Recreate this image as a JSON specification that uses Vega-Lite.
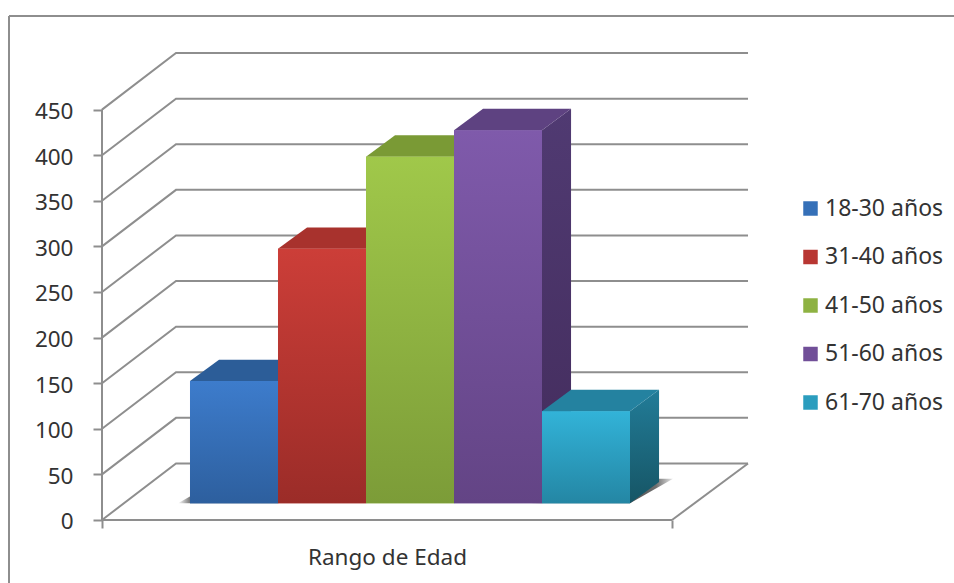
{
  "$schema": "https://vega.github.io/schema/vega-lite/v6.json",
  "width": 945,
  "height": 567,
  "autosize": "none",
  "padding": {"left": 9, "top": 16, "right": 0, "bottom": 0},
  "background": "white",
  "view": {"stroke": null},
  "datasets": {
    "edades": [
      {"rango": "18-30 años", "valor": 134},
      {"rango": "31-40 años", "valor": 279},
      {"rango": "41-50 años", "valor": 380},
      {"rango": "51-60 años", "valor": 409},
      {"rango": "61-70 años", "valor": 101}
    ],
    "marcas": [
      {"valor": 0}, {"valor": 50}, {"valor": 100}, {"valor": 150}, {"valor": 200},
      {"valor": 250}, {"valor": 300}, {"valor": 350}, {"valor": 400}, {"valor": 450}
    ]
  },
  "layer": [
    {
      "data": {"name": "marcas"},
      "transform": [
        {"calculate": "[0, 0.841, 7.341]", "as": "px"},
        {"calculate": "[datum.valor, datum.valor + 62, datum.valor + 62]", "as": "py"},
        {"flatten": ["px", "py"]}
      ],
      "mark": {"type": "line", "color": "#8e8e8e", "strokeWidth": 2},
      "encoding": {
        "x": {
          "field": "px", "type": "quantitative",
          "scale": {"domain": [-1.0568, 9.6818], "nice": false, "zero": false},
          "axis": {
            "title": "Rango de Edad", "values": [0, 6.477], "labels": false, "grid": false, "domain": false,
            "offset": -63, "tickSize": 8, "tickWidth": 2, "tickColor": "#8e8e8e",
            "titleFont": "Noto Sans", "titleFontSize": 22.5, "titleFontWeight": "normal", "titleColor": "#333333",
            "titleX": 378, "titleY": 26
          }
        },
        "y": {
          "field": "py", "type": "quantitative",
          "scale": {"domain": [-69.08, 552.63], "nice": false, "zero": false},
          "axis": {
            "title": null, "values": [0, 50, 100, 150, 200, 250, 300, 350, 400, 450], "grid": false, "domain": false,
            "offset": -93, "tickSize": 9, "tickWidth": 2, "tickColor": "#8e8e8e", "labelPadding": 20, "labelOffset": 2,
            "labelFont": "Noto Sans", "labelFontSize": 22.5, "labelColor": "#333333"
          }
        },
        "detail": {"field": "valor"}
      }
    },
    {
      "data": {"values": [{}]},
      "mark": {"type": "rule", "color": "#8e8e8e", "strokeWidth": 2},
      "encoding": {"x": {"datum": -1.0568}, "y": {"datum": -69.08}, "y2": {"datum": 552.63}}
    },
    {
      "data": {"values": [{}]},
      "mark": {"type": "rule", "color": "#8e8e8e", "strokeWidth": 2},
      "encoding": {"y": {"datum": 552.63}, "x": {"datum": -1.0568}, "x2": {"datum": 9.6818}}
    },
    {
      "data": {"values": [{}]},
      "mark": {"type": "rule", "color": "#8e8e8e", "strokeWidth": 2},
      "encoding": {"x": {"datum": 0}, "y": {"datum": 0}, "y2": {"datum": 450}}
    },
    {
      "data": {"values": [{}]},
      "mark": {"type": "rule", "color": "#8e8e8e", "strokeWidth": 2},
      "encoding": {"y": {"datum": 0}, "x": {"datum": 0}, "x2": {"datum": 6.477}}
    },
    {
      "data": {"values": [{}]},
      "mark": {"type": "rule", "color": "#8e8e8e", "strokeWidth": 2},
      "encoding": {"x": {"datum": 6.477}, "x2": {"datum": 7.341}, "y": {"datum": 0}, "y2": {"datum": 62}}
    },
    {
      "description": "Sombra sobre el suelo, visible en los extremos del grupo de barras",
      "data": {"name": "edades"},
      "transform": [
        {"window": [{"op": "row_number", "as": "n"}]},
        {"filter": "datum.n == 1 || datum.n == 5"},
        {"calculate": "[datum.n - 0.136, datum.n + 0.353, datum.n + 1, datum.n + 1.489]", "as": "px"},
        {"calculate": "[18.3, 45.3, 45.3, 45.3]", "as": "py"},
        {"calculate": "[18.3, 18.3, 18.3, 45.3]", "as": "py2"},
        {"flatten": ["px", "py", "py2"]}
      ],
      "mark": {
        "type": "area",
        "color": {
          "gradient": "linear", "x1": 0, "y1": 0, "x2": 1, "y2": 0,
          "stops": [
            {"offset": 0, "color": "#ffffff"},
            {"offset": 0.08, "color": "#808080"},
            {"offset": 0.7, "color": "#505050"},
            {"offset": 0.88, "color": "#6e6e6e"},
            {"offset": 1, "color": "#e8e8e8"}
          ]
        }
      },
      "encoding": {
        "x": {"field": "px", "type": "quantitative"},
        "y": {"field": "py", "type": "quantitative"},
        "y2": {"field": "py2"},
        "detail": {"field": "n"}
      }
    },
    {
      "description": "Caras laterales de las barras cuyo lado queda oculto por la barra siguiente",
      "data": {"name": "edades"},
      "transform": [
        {"window": [{"op": "row_number", "as": "n"}]},
        {"filter": "datum.n <= 3"},
        {"calculate": "[datum.n + 1, datum.n + 1.33]", "as": "px"},
        {"calculate": "[18.3 + datum.valor, 41.8 + datum.valor]", "as": "py"},
        {"calculate": "[18.3, 41.8]", "as": "py2"},
        {"flatten": ["px", "py", "py2"]}
      ],
      "mark": {"type": "area", "color": "#3c3c3c"},
      "encoding": {
        "x": {"field": "px", "type": "quantitative"},
        "y": {"field": "py", "type": "quantitative"},
        "y2": {"field": "py2"},
        "detail": {"field": "n"}
      }
    },
    {
      "description": "Cara lateral de la barra 51-60 años",
      "data": {"name": "edades"},
      "transform": [
        {"window": [{"op": "row_number", "as": "n"}]},
        {"filter": "datum.n == 4"},
        {"calculate": "[datum.n + 1, datum.n + 1.33]", "as": "px"},
        {"calculate": "[18.3 + datum.valor, 41.8 + datum.valor]", "as": "py"},
        {"calculate": "[18.3, 41.8]", "as": "py2"},
        {"flatten": ["px", "py", "py2"]}
      ],
      "mark": {
        "type": "area",
        "color": {"gradient": "linear", "x1": 0, "y1": 0, "x2": 0, "y2": 1, "stops": [{"offset": 0, "color": "#503a72"}, {"offset": 1, "color": "#432c5c"}]}
      },
      "encoding": {
        "x": {"field": "px", "type": "quantitative"},
        "y": {"field": "py", "type": "quantitative"},
        "y2": {"field": "py2"}
      }
    },
    {
      "description": "Cara lateral de la barra 61-70 años",
      "data": {"name": "edades"},
      "transform": [
        {"window": [{"op": "row_number", "as": "n"}]},
        {"filter": "datum.n == 5"},
        {"calculate": "[datum.n + 1, datum.n + 1.33]", "as": "px"},
        {"calculate": "[18.3 + datum.valor, 41.8 + datum.valor]", "as": "py"},
        {"calculate": "[18.3, 41.8]", "as": "py2"},
        {"flatten": ["px", "py", "py2"]}
      ],
      "mark": {
        "type": "area",
        "color": {"gradient": "linear", "x1": 0, "y1": 0, "x2": 0, "y2": 1, "stops": [{"offset": 0, "color": "#227c98"}, {"offset": 1, "color": "#165565"}]}
      },
      "encoding": {
        "x": {"field": "px", "type": "quantitative"},
        "y": {"field": "py", "type": "quantitative"},
        "y2": {"field": "py2"}
      }
    },
    {
      "description": "Caras superiores",
      "data": {"name": "edades"},
      "transform": [
        {"window": [{"op": "row_number", "as": "n"}]},
        {"calculate": "[datum.n, datum.n + 0.33, datum.n + 1, datum.n + 1.33]", "as": "px"},
        {"calculate": "[18.3 + datum.valor, 41.8 + datum.valor, 41.8 + datum.valor, 41.8 + datum.valor]", "as": "py"},
        {"calculate": "[18.3 + datum.valor, 18.3 + datum.valor, 18.3 + datum.valor, 41.8 + datum.valor]", "as": "py2"},
        {"flatten": ["px", "py", "py2"]}
      ],
      "mark": {"type": "area"},
      "encoding": {
        "x": {"field": "px", "type": "quantitative"},
        "y": {"field": "py", "type": "quantitative"},
        "y2": {"field": "py2"},
        "color": {
          "field": "rango", "type": "nominal", "legend": null,
          "scale": {
            "domain": ["18-30 años", "31-40 años", "41-50 años", "51-60 años", "61-70 años"],
            "range": ["#2c5d98", "#a8322d", "#7a9a35", "#5e4281", "#2482a0"]
          }
        },
        "detail": {"field": "n"}
      }
    },
    {
      "description": "Caras frontales en color plano, de las que sale la leyenda",
      "data": {"name": "edades"},
      "transform": [
        {"window": [{"op": "row_number", "as": "n"}]},
        {"calculate": "datum.n + 1", "as": "fin"},
        {"calculate": "18.3 + datum.valor", "as": "cima"},
        {"calculate": "18.3", "as": "base"}
      ],
      "mark": {"type": "rect"},
      "encoding": {
        "x": {"field": "n", "type": "quantitative"},
        "x2": {"field": "fin"},
        "y": {"field": "cima", "type": "quantitative"},
        "y2": {"field": "base"},
        "color": {
          "field": "rango", "type": "nominal",
          "scale": {
            "domain": ["18-30 años", "31-40 años", "41-50 años", "51-60 años", "61-70 años"],
            "range": ["#3570b8", "#b83632", "#8eb242", "#714f98", "#2b9dbe"]
          },
          "legend": {
            "title": null, "orient": "none", "legendX": 790, "legendY": 181,
            "symbolType": "square", "symbolSize": 210, "symbolStrokeWidth": 0,
            "labelFont": "Noto Sans", "labelFontSize": 23, "labelColor": "#333333",
            "labelLimit": 200, "labelOffset": 3, "rowPadding": 24.5
          }
        }
      }
    },
    {
      "description": "Degradado de la cara frontal 18-30 años",
      "data": {"name": "edades"},
      "transform": [
        {"window": [{"op": "row_number", "as": "n"}]},
        {"filter": "datum.n == 1"},
        {"calculate": "datum.n + 1", "as": "fin"},
        {"calculate": "18.3 + datum.valor", "as": "cima"},
        {"calculate": "18.3", "as": "base"}
      ],
      "mark": {"type": "rect", "color": {"gradient": "linear", "x1": 0, "y1": 0, "x2": 0, "y2": 1, "stops": [{"offset": 0, "color": "#3d7ccc"}, {"offset": 1, "color": "#2d5f9e"}]}},
      "encoding": {
        "x": {"field": "n", "type": "quantitative"},
        "x2": {"field": "fin"},
        "y": {"field": "cima", "type": "quantitative"},
        "y2": {"field": "base"}
      }
    },
    {
      "description": "Degradado de la cara frontal 31-40 años",
      "data": {"name": "edades"},
      "transform": [
        {"window": [{"op": "row_number", "as": "n"}]},
        {"filter": "datum.n == 2"},
        {"calculate": "datum.n + 1", "as": "fin"},
        {"calculate": "18.3 + datum.valor", "as": "cima"},
        {"calculate": "18.3", "as": "base"}
      ],
      "mark": {"type": "rect", "color": {"gradient": "linear", "x1": 0, "y1": 0, "x2": 0, "y2": 1, "stops": [{"offset": 0, "color": "#cc3e38"}, {"offset": 1, "color": "#9b2c28"}]}},
      "encoding": {
        "x": {"field": "n", "type": "quantitative"},
        "x2": {"field": "fin"},
        "y": {"field": "cima", "type": "quantitative"},
        "y2": {"field": "base"}
      }
    },
    {
      "description": "Degradado de la cara frontal 41-50 años",
      "data": {"name": "edades"},
      "transform": [
        {"window": [{"op": "row_number", "as": "n"}]},
        {"filter": "datum.n == 3"},
        {"calculate": "datum.n + 1", "as": "fin"},
        {"calculate": "18.3 + datum.valor", "as": "cima"},
        {"calculate": "18.3", "as": "base"}
      ],
      "mark": {"type": "rect", "color": {"gradient": "linear", "x1": 0, "y1": 0, "x2": 0, "y2": 1, "stops": [{"offset": 0, "color": "#a0c84a"}, {"offset": 1, "color": "#7c9c38"}]}},
      "encoding": {
        "x": {"field": "n", "type": "quantitative"},
        "x2": {"field": "fin"},
        "y": {"field": "cima", "type": "quantitative"},
        "y2": {"field": "base"}
      }
    },
    {
      "description": "Degradado de la cara frontal 51-60 años",
      "data": {"name": "edades"},
      "transform": [
        {"window": [{"op": "row_number", "as": "n"}]},
        {"filter": "datum.n == 4"},
        {"calculate": "datum.n + 1", "as": "fin"},
        {"calculate": "18.3 + datum.valor", "as": "cima"},
        {"calculate": "18.3", "as": "base"}
      ],
      "mark": {"type": "rect", "color": {"gradient": "linear", "x1": 0, "y1": 0, "x2": 0, "y2": 1, "stops": [{"offset": 0, "color": "#7f5aab"}, {"offset": 1, "color": "#634485"}]}},
      "encoding": {
        "x": {"field": "n", "type": "quantitative"},
        "x2": {"field": "fin"},
        "y": {"field": "cima", "type": "quantitative"},
        "y2": {"field": "base"}
      }
    },
    {
      "description": "Degradado de la cara frontal 61-70 años",
      "data": {"name": "edades"},
      "transform": [
        {"window": [{"op": "row_number", "as": "n"}]},
        {"filter": "datum.n == 5"},
        {"calculate": "datum.n + 1", "as": "fin"},
        {"calculate": "18.3 + datum.valor", "as": "cima"},
        {"calculate": "18.3", "as": "base"}
      ],
      "mark": {"type": "rect", "color": {"gradient": "linear", "x1": 0, "y1": 0, "x2": 0, "y2": 1, "stops": [{"offset": 0, "color": "#32b3d8"}, {"offset": 1, "color": "#2486a4"}]}},
      "encoding": {
        "x": {"field": "n", "type": "quantitative"},
        "x2": {"field": "fin"},
        "y": {"field": "cima", "type": "quantitative"},
        "y2": {"field": "base"}
      }
    }
  ],
  "resolve": {"scale": {"color": "independent"}}
}
